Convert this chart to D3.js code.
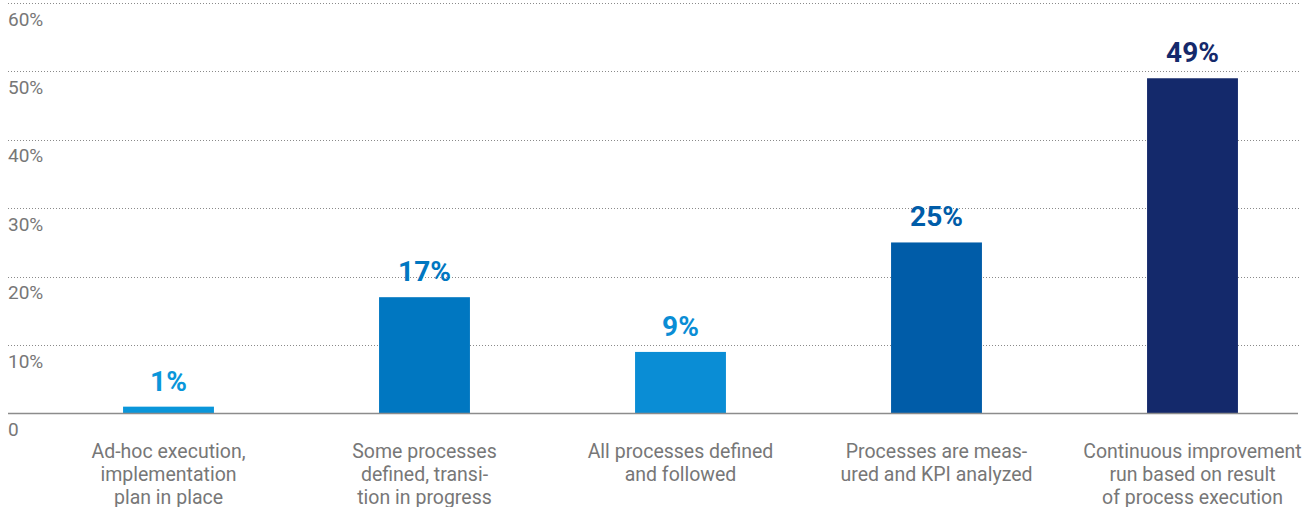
<!DOCTYPE html>
<html>
<head>
<meta charset="utf-8">
<script src="https://cdn.jsdelivr.net/npm/d3@7/dist/d3.min.js"></script>
<style>
  html, body { margin: 0; padding: 0; background: #fff; }
  svg { display: block; font-family: Roboto, "Open Sans", sans-serif; }
</style>
</head>
<body>
<svg id="chart" width="1315" height="507"></svg>
<script>
// Process maturity levels and share of respondents (%)
const categories = [
  ["Ad-hoc execution,", "implementation", "plan in place"],
  ["Some processes", "defined, transi-", "tion in progress"],
  ["All processes defined", "and followed"],
  ["Processes are meas-", "ured and KPI analyzed"],
  ["Continuous improvement", "run based on result", "of process execution"]
];
const values = [1, 17, 9, 25, 49];
const barColors = ["#0a96da", "#0077c1", "#0a8dd5", "#005ca8", "#14296b"];
const yTicks = [0, 10, 20, 30, 40, 50, 60];
const yTickLabels = ["0", "10%", "20%", "30%", "40%", "50%", "60%"];

const svg = d3.select("#chart");
const left = 8, right = 1300;

const y = d3.scaleLinear().domain([0, 60]).range([413.5, 3]);
const x = d3.scaleBand()
  .domain(d3.range(values.length))
  .range([40.5, 1320.5])
  .paddingInner(0.645)
  .paddingOuter(0.3225);

// Dotted gridlines
svg.append("g")
  .selectAll("line")
  .data(yTicks.filter(t => t > 0))
  .join("line")
  .attr("x1", left).attr("x2", right)
  .attr("y1", d => Math.round(y(d)) + 0.5)
  .attr("y2", d => Math.round(y(d)) + 0.5)
  .attr("stroke", "#8a8a8a")
  .attr("stroke-width", 1)
  .attr("stroke-dasharray", "1,2");

// Y tick labels, sitting under each gridline
svg.append("g")
  .selectAll("text")
  .data(yTicks)
  .join("text")
  .attr("x", left)
  .attr("y", d => y(d) + 22.5)
  .attr("fill", "#777777")
  .attr("font-size", 19)
  .text((d, i) => yTickLabels[i]);

// Bars
svg.append("g")
  .selectAll("rect")
  .data(values)
  .join("rect")
  .attr("x", (d, i) => x(i))
  .attr("width", x.bandwidth())
  .attr("y", d => y(d))
  .attr("height", d => y(0) - y(d))
  .attr("fill", (d, i) => barColors[i]);

// Baseline
svg.append("line")
  .attr("x1", left).attr("x2", right - 2)
  .attr("y1", y(0)).attr("y2", y(0))
  .attr("stroke", "#8c8c8c")
  .attr("stroke-width", 1.6);

// Value labels
svg.append("g")
  .selectAll("text")
  .data(values)
  .join("text")
  .attr("x", (d, i) => x(i) + x.bandwidth() / 2)
  .attr("y", d => y(d) - 16)
  .attr("text-anchor", "middle")
  .attr("font-size", 28)
  .attr("font-weight", 700)
  .attr("fill", (d, i) => barColors[i])
  .text(d => d + "%");

// Category labels
const cat = svg.append("g")
  .selectAll("text")
  .data(categories)
  .join("text")
  .attr("x", (d, i) => x(i) + x.bandwidth() / 2)
  .attr("y", 457.5)
  .attr("text-anchor", "middle")
  .attr("font-size", 19.5)
  .attr("fill", "#777777");
cat.selectAll("tspan")
  .data(d => d)
  .join("tspan")
  .attr("x", function () { return d3.select(this.parentNode).attr("x"); })
  .attr("dy", (d, i) => i === 0 ? 0 : 23)
  .text(d => d);
</script>
</body>
</html>
